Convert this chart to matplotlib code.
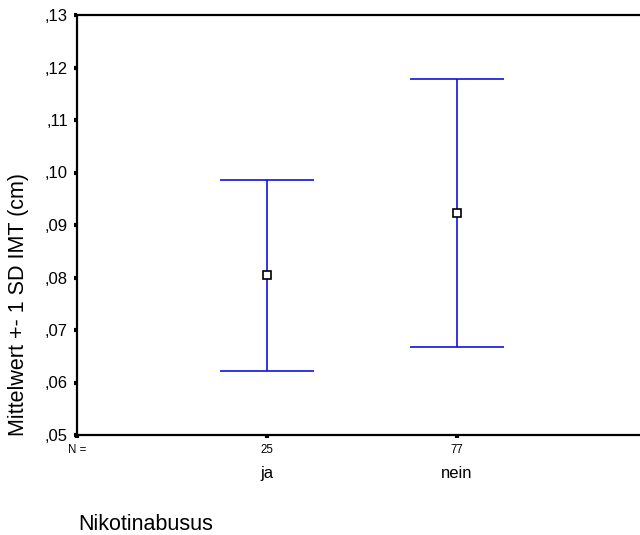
import matplotlib.pyplot as plt
import matplotlib as mpl

mpl.rcParams.update({
    "font.family": ["Liberation Sans", "DejaVu Sans"],
})

groups = ["ja", "nein"]
counts = [25, 77]
means = [0.0804, 0.0923]
sds = [0.0182, 0.0255]
yticks = [0.05, 0.06, 0.07, 0.08, 0.09, 0.10, 0.11, 0.12, 0.13]
ytick_labels = [",05", ",06", ",07", ",08", ",09", ",10", ",11", ",12", ",13"]

fig = plt.figure(figsize=(6.4, 5.35), dpi=100)
ax = fig.add_axes([77 / 640, 100 / 535, 570 / 640, 420 / 535])

xpos = [1, 2]
ax.errorbar(xpos, means, yerr=sds, fmt="none", ecolor="#1010e0",
            elinewidth=1.2, capsize=34, capthick=1.2)
ax.plot(xpos, means, "s", markersize=5.5, markerfacecolor="white",
        markeredgecolor="black", markeredgewidth=1.2, linestyle="none")

ax.set_xlim(0, 3)
ax.set_ylim(0.05, 0.13)
ax.set_yticks(yticks)
ax.set_yticklabels(ytick_labels, fontsize=12)
ax.set_xticks([0] + xpos)
ax.set_xticklabels(["N ="] + [str(c) for c in counts], fontsize=8.3)
ax.tick_params(axis="both", direction="out", length=2.5, width=3, pad=4)

for sp in ["top", "left", "bottom"]:
    ax.spines[sp].set_linewidth(1.6)
ax.spines["right"].set_visible(False)

for x, g in zip(xpos, groups):
    ax.text(x, -0.091, g, transform=ax.get_xaxis_transform(),
            ha="center", va="center", fontsize=12)

fig.text(19 / 640, 1 - 305 / 535, "Mittelwert +- 1 SD IMT (cm)",
         rotation=90, ha="center", va="center", fontsize=15.5)
fig.text(78 / 640, 1 - 525 / 535, "Nikotinabusus", ha="left", va="center",
         fontsize=15.5)

fig.savefig("out.png", dpi=100)
